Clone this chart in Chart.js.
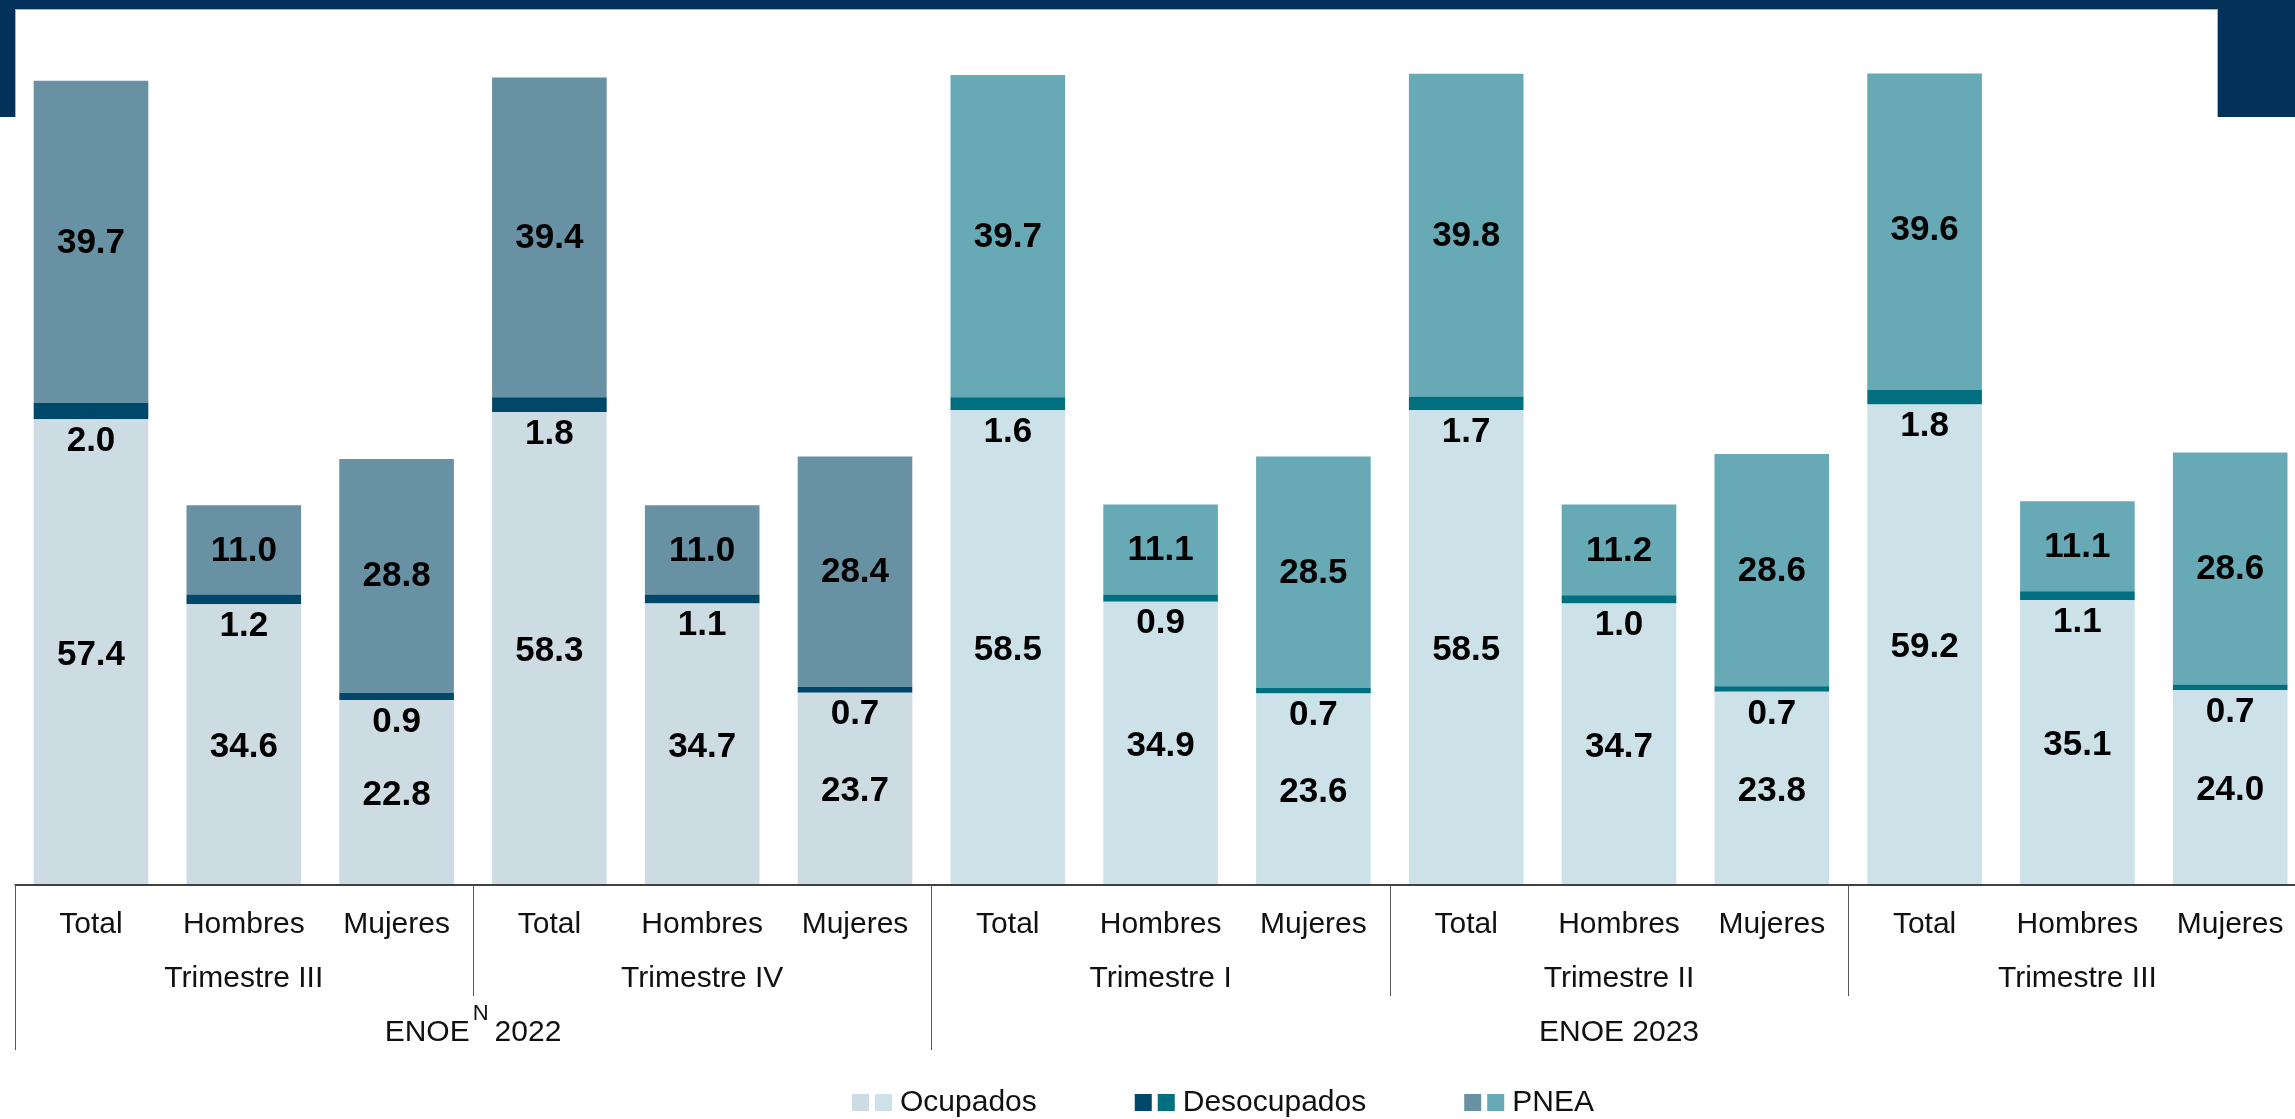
<!DOCTYPE html>
<html>
<head>
<meta charset="utf-8">
<script src="https://cdn.jsdelivr.net/npm/chart.js@4.4.0/dist/chart.umd.min.js"></script>
<style>
  html, body { margin: 0; padding: 0; background: #fff; overflow: hidden; width: 2295px; height: 1119px; }
  #hdr { position: absolute; left: 0; top: 0; width: 2295px; height: 117px; background: #04315a; }
  #hdrIn { position: absolute; left: 15px; top: 9px; width: 2203px; height: 108px; background: #fff;
           border-top: 1px solid #9fb6c4; border-left: 1px solid #9fb6c4; border-right: 1px solid #9fb6c4; box-sizing: border-box; }
  #c { position: absolute; left: 0; top: 0; }
</style>
</head>
<body>
<div id="hdr"></div>
<div id="hdrIn"></div>
<canvas id="c" width="2310" height="1119"></canvas>
<script>
// data
var groups = ['Total', 'Hombres', 'Mujeres'];
var quarters = ['Trimestre III', 'Trimestre IV', 'Trimestre I', 'Trimestre II', 'Trimestre III'];
var quarterYear = [0, 0, 1, 1, 1];
var years = ['2022', '2023'];

var ocupados    = [57.4, 34.6, 22.8, 58.3, 34.7, 23.7, 58.5, 34.9, 23.6, 58.5, 34.7, 23.8, 59.2, 35.1, 24.0];
var desocupados = [2.0, 1.2, 0.9, 1.8, 1.1, 0.7, 1.6, 0.9, 0.7, 1.7, 1.0, 0.7, 1.8, 1.1, 0.7];
var pnea        = [39.7, 11.0, 28.8, 39.4, 11.0, 28.4, 39.7, 11.1, 28.5, 39.8, 11.2, 28.6, 39.6, 11.1, 28.6];

// colours: [2022, 2023]
var colOcup = ['#cddbe2', '#cde2e8'];
var colDes  = ['#00486a', '#006f80'];
var colPnea = ['#6891a3', '#67a9b5'];

var FONT = '"Liberation Sans", Arial, sans-serif';

var labels = [];
var barYear = [];
quarters.forEach(function (q, qi) {
  groups.forEach(function (g) { labels.push(g); barYear.push(quarterYear[qi]); });
});
function colorsFor(pair) { return barYear.map(function (y) { return pair[y]; }); }

// axis, separators and multi level labels
var axisPlugin = {
  id: 'axisLabels',
  afterDraw: function (chart) {
    var ctx = chart.ctx, xs = chart.scales.x, area = chart.chartArea;
    var step = xs.getPixelForValue(1) - xs.getPixelForValue(0);
    var edge = function (i) { return xs.getPixelForValue(i) - step / 2; };
    var y0 = area.bottom;
    ctx.save();
    ctx.strokeStyle = '#404040';
    ctx.lineWidth = 2;
    ctx.beginPath(); ctx.moveTo(edge(0), y0); ctx.lineTo(chart.width, y0); ctx.stroke();

    ctx.lineWidth = 1;
    ctx.strokeStyle = '#555';
    quarters.forEach(function (q, qi) {
      var x = Math.round(edge(qi * 3)) + 0.5;
      var yearStart = qi === 0 || quarterYear[qi] !== quarterYear[qi - 1];
      ctx.beginPath(); ctx.moveTo(x, y0); ctx.lineTo(x, yearStart ? 1050 : 996); ctx.stroke();
    });

    ctx.fillStyle = '#111';
    ctx.textAlign = 'center';
    ctx.textBaseline = 'middle';
    ctx.font = '30px ' + FONT;
    labels.forEach(function (l, i) { ctx.fillText(l, xs.getPixelForValue(i), 925); });
    quarters.forEach(function (q, qi) {
      ctx.fillText(q, xs.getPixelForValue(qi * 3 + 1), 979);
    });

    years.forEach(function (yr, yi) {
      var idx = [];
      quarterYear.forEach(function (y, qi) { if (y === yi) idx.push(qi); });
      var left = edge(idx[0] * 3), right = edge(idx[idx.length - 1] * 3 + 3);
      var cx = (left + right) / 2;
      if (yi === 0) {
        ctx.font = '30px ' + FONT;
        var w1 = ctx.measureText('ENOE').width, w3 = ctx.measureText('2022').width;
        ctx.font = '22px ' + FONT;
        var w2 = ctx.measureText('N').width;
        var total = w1 + 3 + w2 + 6 + w3;
        var sx = cx - total / 2;
        ctx.textAlign = 'left';
        ctx.font = '30px ' + FONT;
        ctx.fillText('ENOE', sx, 1033);
        ctx.font = '22px ' + FONT;
        ctx.fillText('N', sx + w1 + 3, 1014);
        ctx.font = '30px ' + FONT;
        ctx.fillText(yr, sx + w1 + 3 + w2 + 6, 1033);
        ctx.textAlign = 'center';
      } else {
        ctx.font = '30px ' + FONT;
        ctx.fillText('ENOE ' + yr, cx, 1033);
      }
    });

    // legend with two swatches per item
    var items = [['Ocupados', colOcup], ['Desocupados', colDes], ['PNEA', colPnea]];
    var lx = 852, ly = 1103;
    ctx.textAlign = 'left';
    ctx.font = '30px ' + FONT;
    items.forEach(function (it) {
      ctx.fillStyle = it[1][0]; ctx.fillRect(lx, ly - 9, 17, 17);
      ctx.fillStyle = it[1][1]; ctx.fillRect(lx + 23, ly - 9, 17, 17);
      ctx.fillStyle = '#111';
      ctx.fillText(it[0], lx + 48, ly);
      lx += 48 + ctx.measureText(it[0]).width + 98;
    });
    ctx.restore();
  }
};

// value labels inside the bars
var valuePlugin = {
  id: 'values',
  afterDatasetsDraw: function (chart) {
    var ctx = chart.ctx;
    ctx.save();
    ctx.font = 'bold 35px ' + FONT;
    ctx.fillStyle = '#000';
    ctx.textAlign = 'center';
    ctx.textBaseline = 'middle';
    chart.data.datasets.forEach(function (ds, di) {
      chart.getDatasetMeta(di).data.forEach(function (bar, i) {
        var txt = ds.data[i].toFixed(1);
        var y;
        if (di === 1) y = bar.base + 22;
        else if (di === 0) y = (bar.y + bar.base) / 2 + 3;
        else y = (bar.y + bar.base) / 2 + 1;
        ctx.fillText(txt, bar.x, y);
      });
    });
    ctx.restore();
  }
};

var chart = new Chart('c', {
  type: 'bar',
  data: {
    labels: labels,
    datasets: [
      { label: 'Ocupados', data: ocupados, backgroundColor: colorsFor(colOcup) },
      { label: 'Desocupados', data: desocupados, backgroundColor: colorsFor(colDes) },
      { label: 'PNEA', data: pnea, backgroundColor: colorsFor(colPnea) }
    ]
  },
  options: {
    responsive: false,
    animation: false,
    events: [],
    layout: { padding: { left: 14.6, right: 3.4, top: 73.5, bottom: 234 } },
    datasets: { bar: { categoryPercentage: 1, barPercentage: 0.75 } },
    plugins: { legend: { display: false }, tooltip: { enabled: false } },
    scales: {
      x: { stacked: true, display: false },
      y: { stacked: true, display: false, min: 0, max: 100 }
    }
  },
  plugins: [axisPlugin, valuePlugin]
});
</script>
</body>
</html>
